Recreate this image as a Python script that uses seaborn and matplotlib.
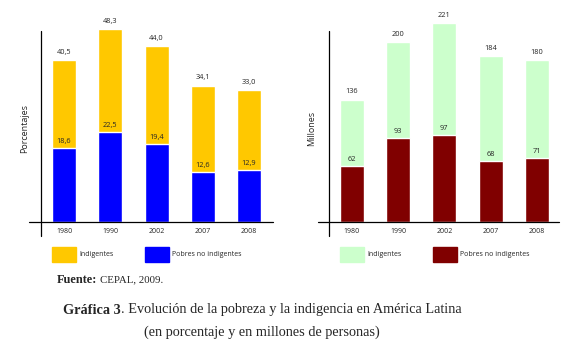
import matplotlib
matplotlib.use("Agg")
import matplotlib.pyplot as plt
from matplotlib.patches import Rectangle
import seaborn as sns

# data
years = ["1980", "1990", "2002", "2007", "2008"]
pct_total = [40.5, 48.3, 44.0, 34.1, 33.0]        # Indigentes (top of stack = total)
pct_pobres = [18.6, 22.5, 19.4, 12.6, 12.9]       # Pobres no indigentes
mill_total = [136, 200, 221, 184, 180]
mill_pobres = [62, 93, 97, 68, 71]

sns.set_theme(style="white")
plt.rcParams["font.family"] = ["Open Sans", "DejaVu Sans"]

W, H = 578, 358
fig = plt.figure(figsize=(W / 100, H / 100), dpi=100)


def fx(px):
    return px / W


def fy(py):
    return 1 - py / H


def panel(left_px, right_px, xlo, xhi, ymax, totals, lower, c_top, c_low,
          ylabel, ylabel_x, fmt, leg_x):
    top_px, bot_px = 8, 222
    ax = fig.add_axes([fx(left_px), fy(bot_px), fx(right_px - left_px),
                       (bot_px - top_px) / H])
    sns.barplot(x=years, y=totals, color=c_top, width=0.52, saturation=1,
                ax=ax)
    sns.barplot(x=years, y=lower, color=c_low, width=0.52, saturation=1,
                ax=ax)
    ax.set_xlim(xlo, xhi)
    ax.set_ylim(0, ymax)
    sns.despine(ax=ax, left=True, bottom=True)
    ax.set_yticks([])
    ax.set_xlabel("")
    ax.set_ylabel("")
    ax.tick_params(axis="x", length=0, pad=4, labelsize=5)
    # axis lines
    ax.axhline(0, color="black", lw=0.9, clip_on=False)
    y_top = (bot_px - 31) / (bot_px - top_px)
    y_bot = -(236 - bot_px) / (bot_px - top_px)
    ax.axvline(-0.5, ymin=y_bot, ymax=y_top, color="black", lw=0.9,
               clip_on=False)
    pad = ymax * 0.02
    for i, (t, l) in enumerate(zip(totals, lower)):
        ax.text(i, t + pad, fmt(t), ha="center", va="bottom", fontsize=5.3)
        ax.text(i, l + pad * 0.7, fmt(l), ha="center", va="bottom",
                fontsize=5.3)
    fig.text(fx(ylabel_x), fy(128), ylabel, rotation=90, ha="center",
             va="center", fontsize=6.5)
    # legend boxes
    for (x0, c, lab) in [(leg_x[0], c_top, "Indigentes"),
                         (leg_x[1], c_low, "Pobres no indigentes")]:
        fig.patches.append(Rectangle((fx(x0), fy(262)), fx(24), 15 / H,
                                     transform=fig.transFigure, color=c))
        fig.text(fx(x0 + 27), fy(254.5), lab, ha="left", va="center",
                 fontsize=5)
    return ax


pct_fmt = lambda v: f"{v:.1f}".replace(".", ",")
mill_fmt = lambda v: f"{v:d}"

panel(29, 273, -0.76, 4.52, 214 / 4.0, pct_total, pct_pobres,
      "#FFC800", "#0000FF", "Porcentajes", 25, pct_fmt, (52, 145))
panel(318, 559, -0.73, 4.48, 214 / 0.9, mill_total, mill_pobres,
      "#CCFFCC", "#800000", "Millones", 312, mill_fmt, (340, 433))

serif = ["Liberation Serif", "DejaVu Serif"]
fig.canvas.draw()
r = fig.canvas.get_renderer()
t1 = fig.text(fx(57), fy(280), "Fuente:", family=serif, weight="bold",
              fontsize=8.8, va="center")
bb = t1.get_window_extent(r)
fig.text(bb.x1 / W + fx(2.5), fy(280), "CEPAL, 2009.", family=serif,
         fontsize=7.8, va="center")

b = fig.text(0, fy(310), "Gráfica 3", family=serif, weight="bold",
             fontsize=10.3, va="center")
rest = fig.text(0, fy(310), ". Evolución de la pobreza y la indigencia en América Latina",
                family=serif, fontsize=10.3, va="center")
w1 = b.get_window_extent(r).width
w2 = rest.get_window_extent(r).width
x0 = 262 - (w1 + w2) / 2
b.set_x(fx(x0))
rest.set_x(fx(x0 + w1))
fig.text(fx(262), fy(332), "(en porcentaje y en millones de personas)",
         family=serif, fontsize=10.3, ha="center", va="center")

fig.savefig("out.png", dpi=100)
